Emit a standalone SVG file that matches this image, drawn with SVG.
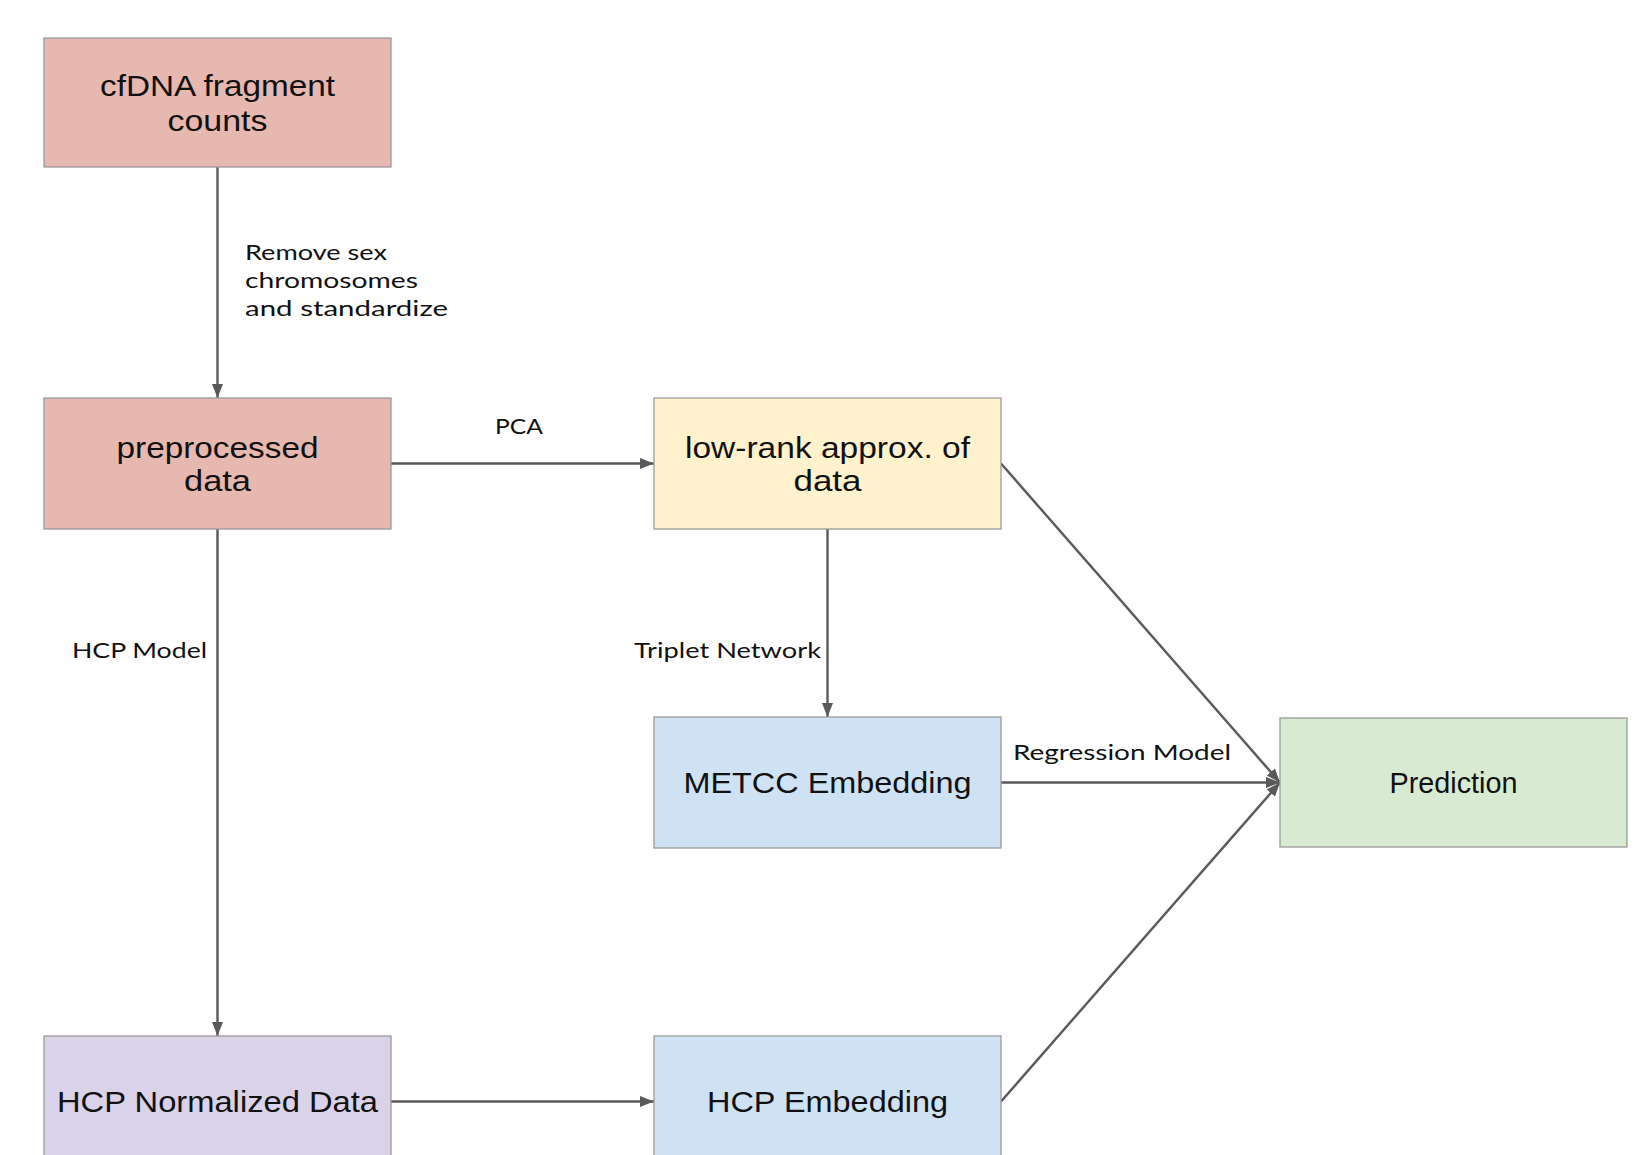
<svg xmlns="http://www.w3.org/2000/svg" width="1634" height="1155" viewBox="0 0 1634 1155">
<style>
.box{stroke:#9a9a9a;stroke-width:1.3}
.nt{font-family:"Liberation Sans",Arial,sans-serif;font-size:29px;fill:#111;text-anchor:middle;dominant-baseline:central}
.el{font-family:Lato,"Liberation Sans",sans-serif;font-size:22px;fill:#111;dominant-baseline:central}
.cn{stroke:#595959;stroke-width:2.4;fill:none;marker-end:url(#ah)}
</style>
<defs>
<marker id="ah" viewBox="0 0 14 11" refX="14" refY="5.5" markerWidth="14" markerHeight="11" markerUnits="userSpaceOnUse" orient="auto">
<path d="M0,0 L14,5.5 L0,11 Z" fill="#595959"/>
</marker>
</defs>
<rect width="1634" height="1155" fill="#fff"/>
<g id="connectors">
<line class="cn" x1="217.5" y1="167" x2="217.5" y2="398"/>
<line class="cn" x1="391" y1="463.5" x2="654" y2="463.5"/>
<line class="cn" x1="217.5" y1="529" x2="217.5" y2="1036"/>
<line class="cn" x1="827.5" y1="529" x2="827.5" y2="717"/>
<line class="cn" x1="1001" y1="463.5" x2="1280" y2="782.5"/>
<line class="cn" x1="1001" y1="782.5" x2="1280" y2="782.5"/>
<line class="cn" x1="391" y1="1101.5" x2="654" y2="1101.5"/>
<line class="cn" x1="1001" y1="1101.5" x2="1280" y2="782.5"/>
<text class="el" x="245" y="251" textLength="142" lengthAdjust="spacingAndGlyphs">Remove sex</text>
<text class="el" x="245" y="279" textLength="173" lengthAdjust="spacingAndGlyphs">chromosomes</text>
<text class="el" x="245" y="307" textLength="203" lengthAdjust="spacingAndGlyphs">and standardize</text>
<text class="el" x="495" y="425" textLength="48" lengthAdjust="spacingAndGlyphs">PCA</text>
<text class="el" x="72" y="649" textLength="135" lengthAdjust="spacingAndGlyphs">HCP Model</text>
<text class="el" x="634" y="649" textLength="187" lengthAdjust="spacingAndGlyphs">Triplet Network</text>
<text class="el" x="1013" y="751" textLength="218" lengthAdjust="spacingAndGlyphs">Regression Model</text>
</g>
<g id="n_cfdna">
<rect class="box" x="44" y="38" width="347" height="129" fill="#e6b8af"/>
<text class="nt" x="217.5" y="86" textLength="235" lengthAdjust="spacingAndGlyphs">cfDNA fragment</text>
<text class="nt" x="217.5" y="120.5" textLength="100" lengthAdjust="spacingAndGlyphs">counts</text>
</g>
<g id="n_pre">
<rect class="box" x="44" y="398" width="347" height="131" fill="#e6b8af"/>
<text class="nt" x="217.5" y="447.5" textLength="202" lengthAdjust="spacingAndGlyphs">preprocessed</text>
<text class="nt" x="217.5" y="481" textLength="67" lengthAdjust="spacingAndGlyphs">data</text>
</g>
<g id="n_lowrank">
<rect class="box" x="654" y="398" width="347" height="131" fill="#fff2cc"/>
<text class="nt" x="827.5" y="447.5" textLength="285" lengthAdjust="spacingAndGlyphs">low-rank approx. of</text>
<text class="nt" x="827.5" y="481" textLength="68" lengthAdjust="spacingAndGlyphs">data</text>
</g>
<g id="n_metcc">
<rect class="box" x="654" y="717" width="347" height="131" fill="#cfe2f3"/>
<text class="nt" x="827.5" y="782.5" textLength="288" lengthAdjust="spacingAndGlyphs">METCC Embedding</text>
</g>
<g id="n_pred">
<rect class="box" x="1280" y="718" width="347" height="129" fill="#d9ead3"/>
<text class="nt" x="1453.5" y="782.5" textLength="128" lengthAdjust="spacingAndGlyphs">Prediction</text>
</g>
<g id="n_hcpnorm">
<rect class="box" x="44" y="1036" width="347" height="131" fill="#d9d2e9"/>
<text class="nt" x="217.5" y="1101.5" textLength="321" lengthAdjust="spacingAndGlyphs">HCP Normalized Data</text>
</g>
<g id="n_hcpemb">
<rect class="box" x="654" y="1036" width="347" height="131" fill="#cfe2f3"/>
<text class="nt" x="827.5" y="1101.5" textLength="241" lengthAdjust="spacingAndGlyphs">HCP Embedding</text>
</g>
</svg>
